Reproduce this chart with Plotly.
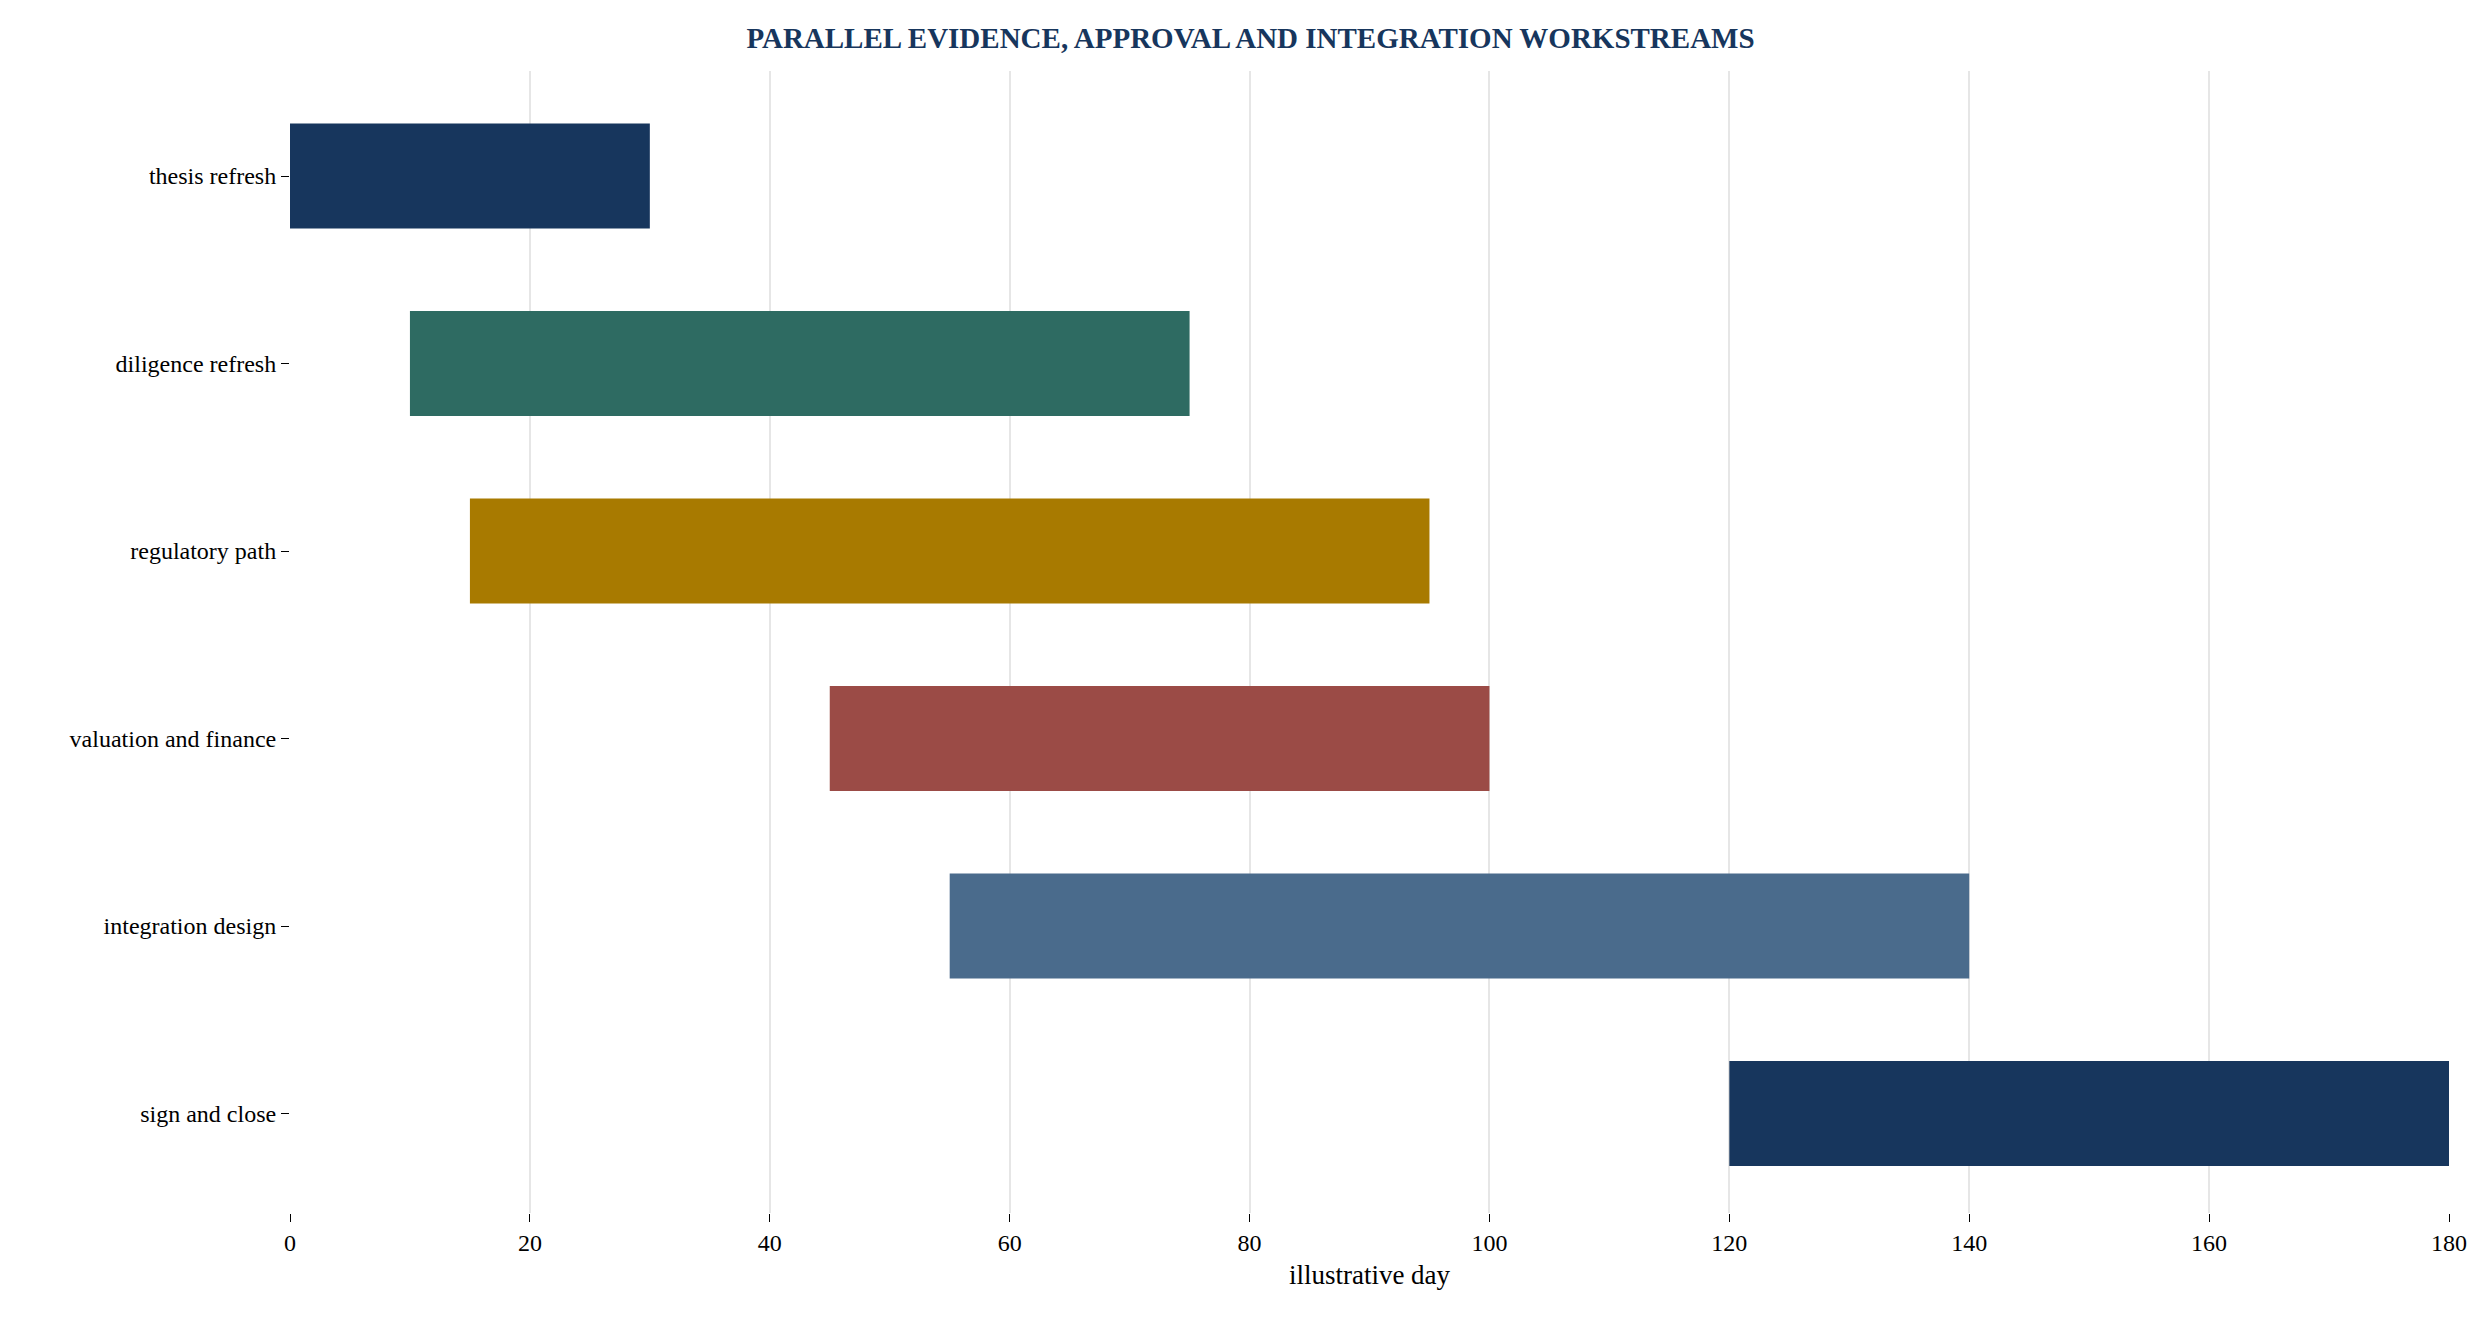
import plotly.graph_objects as go

# workstreams and their start / end day
tasks = ["thesis refresh", "diligence refresh", "regulatory path",
         "valuation and finance", "integration design", "sign and close"]
start_day = [0, 10, 15, 45, 55, 120]
end_day = [30, 75, 95, 100, 140, 180]
colors = ["#17365d", "#2e6b62", "#a87a00", "#9b4b46", "#4a6b8c", "#17365d"]

durations = [e - s for s, e in zip(start_day, end_day)]

fig = go.Figure(go.Bar(
    y=tasks,
    x=durations,
    base=start_day,
    orientation="h",
    marker=dict(color=colors, line=dict(width=0)),
    width=0.56,
    hoverinfo="skip",
))

fig.update_layout(
    width=2485, height=1320,
    plot_bgcolor="white", paper_bgcolor="white",
    font=dict(family="Liberation Serif, Times New Roman, serif", size=24, color="black"),
    title=dict(text="<b>PARALLEL EVIDENCE, APPROVAL AND INTEGRATION WORKSTREAMS</b>",
               x=0.5, y=0.985, xanchor="center", yanchor="top",
               font=dict(size=29, color="#17365d")),
    margin=dict(l=282, r=44, t=63, b=115),
    showlegend=False,
    xaxis=dict(range=[0, 180], dtick=20, showgrid=True, gridcolor="rgba(200,200,200,0.45)",
               gridwidth=1.5, zeroline=False, showline=False, ticks="outside",
               ticklen=8, tickcolor="black", layer="above traces",
               title=dict(text="illustrative day", font=dict(size=27), standoff=10)),
    yaxis=dict(categoryorder="array", categoryarray=tasks, range=[5.53, -0.56],
               showgrid=False, zeroline=False, showline=False, ticks="outside",
               ticklen=8, tickcolor="black"),
)

fig.write_html("out.html")
